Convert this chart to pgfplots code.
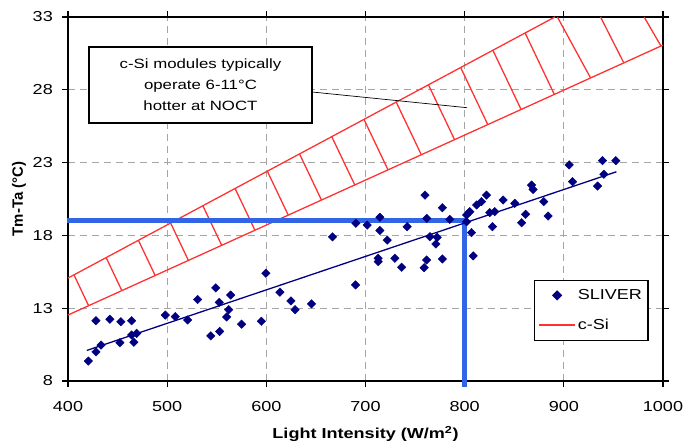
\documentclass[border=0pt]{standalone}
\usepackage{fontspec}
\setmainfont{Liberation Sans}[FakeStretch=1.25]
\newfontfamily\ylabfont{Liberation Sans}
\usepackage{pgfplots}
\usepackage{pgfplotstable}
\pgfplotsset{compat=1.18}
\definecolor{navydot}{RGB}{0,0,128}
\definecolor{bandred}{RGB}{255,50,50}
\definecolor{noctblue}{RGB}{50,100,230}
\definecolor{gridgray}{RGB}{165,165,165}

\pgfplotsset{
  legmark/.style={legend image code/.code={\draw[mark repeat=2,mark phase=2,##1] plot coordinates {(0bp,0bp) (18bp,0bp) (36bp,0bp)};}},
  legline/.style={legend image code/.code={\draw[##1] (0bp,0bp) -- (36bp,0bp);}},
}

\pgfplotstableread{
x y
420.5 9.37
428.2 12.14
428.2 10.0
433.3 10.47
442.3 12.24
452.4 10.63
453.4 12.07
464.2 12.14
464.2 11.16
466.5 10.66
469.2 11.27
498.1 12.53
508.2 12.42
520.7 12.19
530.7 13.6
544 11.1
549 14.4
552.5 13.4
553 11.4
560 12.4
562 12.9
564 13.9
575 11.9
595 12.1
599.6 15.4
613.7 14.1
624.8 13.5
629 12.9
645.6 13.3
666.8 17.9
690 14.6
690.3 18.83
701.7 18.71
712.8 16.43
712.8 16.2
714.5 19.24
714.5 18.33
721.9 17.68
729.6 16.43
736.4 15.81
742 18.6
759.2 15.78
760 20.77
761.6 16.31
761.8 19.17
765 17.91
771 17.41
772.3 17.87
777.5 19.9
777.5 16.38
785 19.1
801.9 19.4
801.9 18.94
805.2 19.63
806.9 18.19
808.6 16.59
812 20.09
817 20.32
822 20.77
825.3 19.56
828 18.6
830.3 19.63
838.8 20.43
850.6 20.2
857.4 18.87
861.4 19.45
867.4 21.46
869 21.16
879.8 20.32
884.2 19.33
905.4 22.84
908.8 21.69
934 21.39
939 23.13
940.3 22.2
952.4 23.13
}\sliver

\pgfplotstableread{
x y
406 15.29
420.8 13.17
nan nan
438.5 16.475
454.3 14.208
nan nan
471 17.662
487.9 15.246
nan nan
503.5 18.848
521.4 16.282
nan nan
536 20.034
555.0 17.319
nan nan
568.5 21.220
588.5 18.355
nan nan
601 22.407
622.1 19.392
nan nan
633.5 23.593
655.6 20.429
nan nan
666 24.779
689.2 21.465
nan nan
698.5 25.965
722.7 22.501
nan nan
731 27.152
756.3 23.538
nan nan
763.5 28.338
789.8 24.574
nan nan
796 29.524
823.3 25.612
nan nan
828.5 30.710
856.9 26.648
nan nan
861 31.897
890.4 27.685
nan nan
893.5 33
927 28.81
nan nan
937 33
960.5 29.85
nan nan
981 33
998 31.0
}\hatch

\begin{document}
\begin{tikzpicture}
\path[use as bounding box] (-68bp,-61bp) rectangle (624bp,381bp);
\begin{axis}[
  at={(0,0)}, anchor=south west,
  width=595bp, height=364bp, scale only axis,
  xmin=400, xmax=1000, ymin=8, ymax=33,
  xtick={400,500,...,1000}, ytick={8,13,...,33},
  grid=major,
  major grid style={gridgray, line width=0.9pt, dash pattern=on 7bp off 5bp},
  axis line style={black, line width=1.3pt},
  tick align=outside, major tick length=6bp,
  every tick/.style={black, line width=1.1pt},
  /pgf/number format/assume math mode=true,
  /pgf/number format/1000 sep={},
  tick label style={font=\fontsize{14.5}{16}\selectfont, inner sep=0pt},
  xticklabel style={anchor=north, yshift=-14.7bp},
  yticklabel style={anchor=east, xshift=-9bp},
  xlabel={Light Intensity (W/m\textsuperscript{2})},
  xlabel style={at={(rel axis cs:0.5,-0.1593)}, anchor=base, inner sep=0pt,
    font=\fontsize{14.5}{16}\selectfont\bfseries},
  ylabel={Tm-Ta (°C)},
  ylabel style={at={(rel axis cs:-0.0824,0.5)}, anchor=center, inner sep=0pt,
    font=\fontsize{15}{17}\ylabfont\bfseries},
  clip=false,
  legend style={at={(rel axis cs:0.783,0.2775)}, anchor=north west,
    draw=black, line width=1.2pt, fill=white, inner xsep=4bp, inner ysep=7bp,
    row sep=14bp, font=\fontsize{14.5}{16}\selectfont},
  legend cell align=left,
]
\addlegendimage{legmark, only marks, mark=square*, mark options={rotate=45}, mark size=3bp, navydot}
\addlegendentry{SLIVER}
\addlegendimage{legline, bandred, line width=1.3pt}
\addlegendentry{c-Si}

\addplot[bandred, line width=1.3pt, forget plot] coordinates {(400,15.07) (891,33)};
\addplot[bandred, line width=1.3pt, forget plot] coordinates {(400,12.53) (1000,31.07)};
\addplot[bandred, line width=1.3pt, forget plot, unbounded coords=jump] table {\hatch};
\addplot[noctblue, line width=5bp, forget plot] coordinates {(399,19) (800,19) (800,7.6)};
\addplot[black, line width=0.7pt, forget plot] coordinates {(646,27.85) (802.5,26.77)};
\addplot[only marks, mark=square*, mark options={rotate=45}, mark size=3bp, navydot, forget plot] table {\sliver};
\addplot[navydot, line width=1.3pt, forget plot] coordinates {(419,10.1) (953,22.37)};
\node[draw=black, line width=1.3pt, fill=white, align=center, minimum width=223bp,
  minimum height=76bp, font=\fontsize{13.5}{21}\selectfont]
  at (axis cs:533.6,28.33) {c-Si modules typically\\operate 6-11°C\\hotter at NOCT};
\end{axis}
\end{tikzpicture}
\end{document}
